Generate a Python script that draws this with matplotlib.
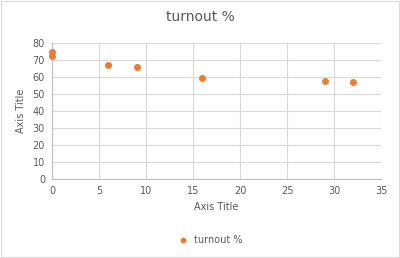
import matplotlib
matplotlib.use("Agg")
import matplotlib.pyplot as plt
from matplotlib.patches import Rectangle

# turnout by x value
x_vals = [0, 0, 6, 9, 16, 29, 32]
turnout = [75, 72.3, 67.2, 65.8, 59.6, 57.6, 57.1]

x_ticks = [0, 5, 10, 15, 20, 25, 30, 35]
y_ticks = [0, 10, 20, 30, 40, 50, 60, 70, 80]

text_col = "#595959"
grid_col = "#d9d9d9"
orange = "#ED7D31"

fig = plt.figure(figsize=(4, 2.58), dpi=100)
ax = fig.add_axes([0.13, 0.306, 0.8225, 0.527])

ax.scatter(x_vals, turnout, s=16, color=orange, zorder=3, label="turnout %",
           clip_on=False)

ax.set_xlim(0, 35)
ax.set_ylim(0, 80)
ax.set_xticks(x_ticks)
ax.set_yticks(y_ticks)
ax.grid(True, color=grid_col, linewidth=0.8)
ax.set_axisbelow(True)
ax.tick_params(length=0, labelsize=7, colors=text_col, pad=5)
for side in ["top", "right"]:
    ax.spines[side].set_visible(False)
for side in ["left", "bottom"]:
    ax.spines[side].set_color("#bfbfbf")
    ax.spines[side].set_linewidth(0.8)

ax.set_xlabel("Axis Title", fontsize=7, color=text_col, labelpad=4)
ax.set_ylabel("Axis Title", fontsize=7, color=text_col, labelpad=5)
fig.text(0.5, 0.935, "turnout %", ha="center", va="center",
         fontsize=10, color=text_col)

fig.legend(loc="center", bbox_to_anchor=(0.52, 0.07), frameon=False,
           fontsize=7, labelcolor=text_col, handletextpad=0.1,
           markerscale=0.8)

# outer chart border
fig.patches.append(Rectangle((0.002, 0.003), 0.995, 0.993,
                             transform=fig.transFigure, fill=False,
                             edgecolor="#d9d9d9", linewidth=0.8))

fig.savefig("out.png", dpi=100)
